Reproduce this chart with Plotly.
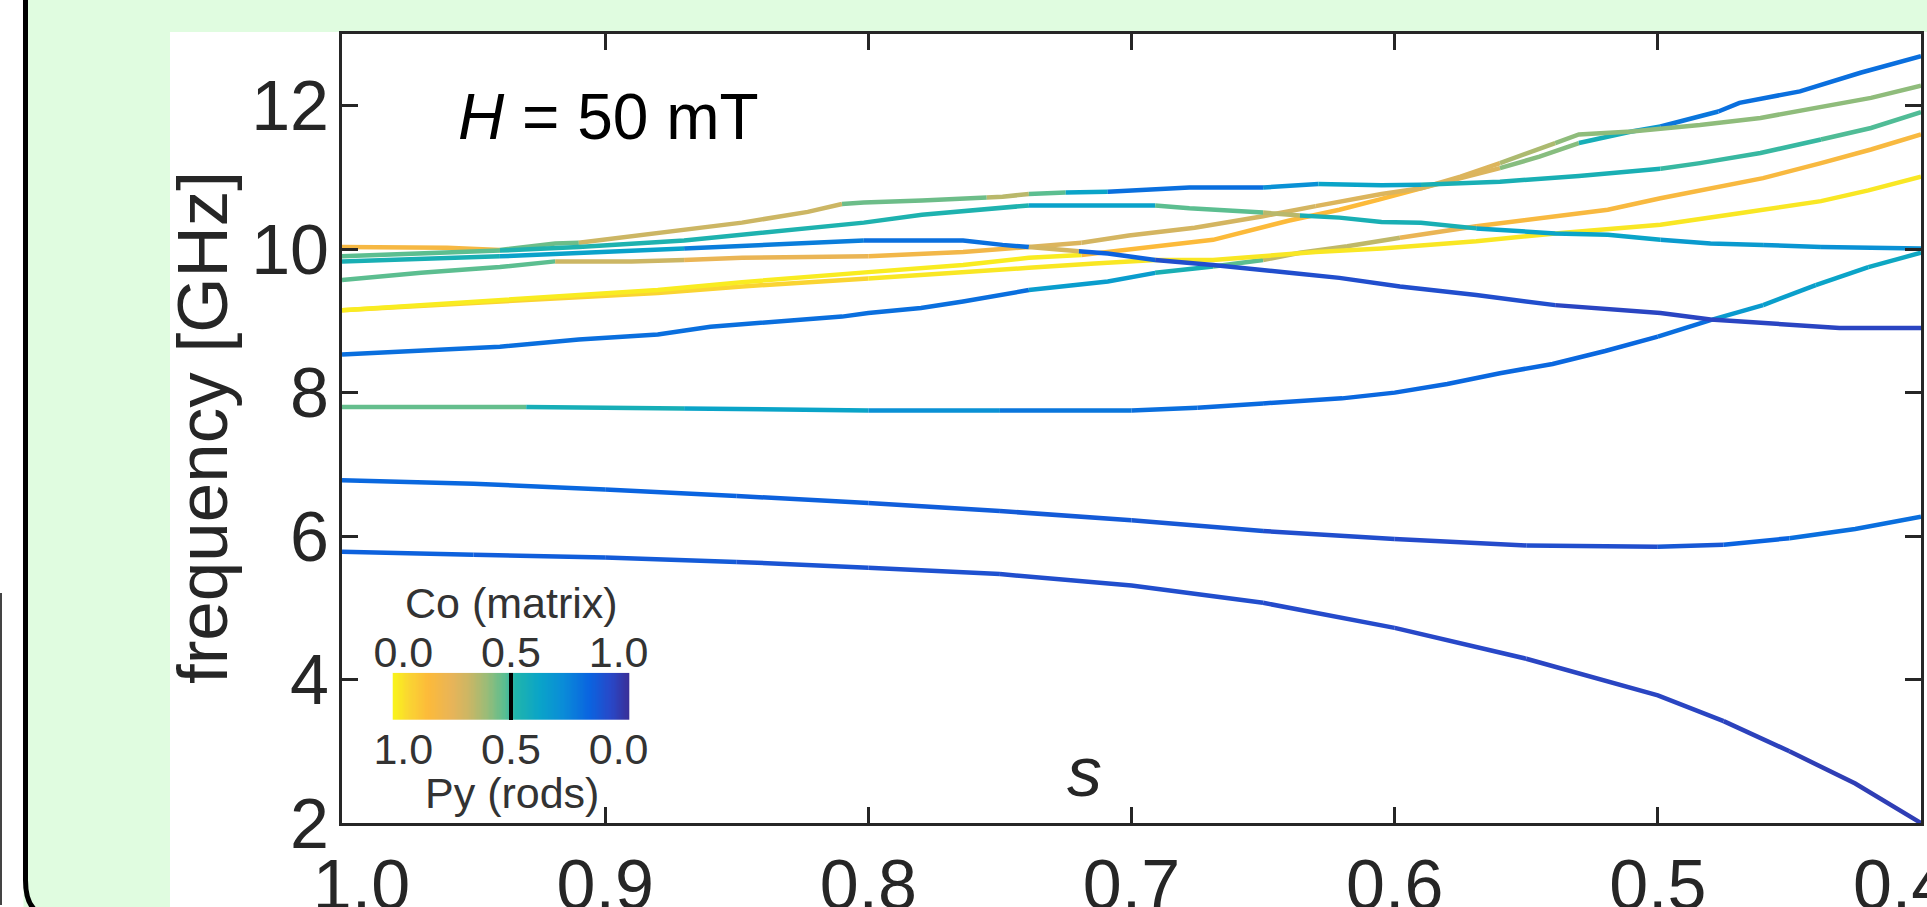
import plotly.graph_objects as go

W, H = 1927, 907

# ---------------- data ----------------
s_tick_vals = [1.0, 0.9, 0.8, 0.7, 0.6, 0.5, 0.4]
# the two end labels sit slightly inward in the reference (figure-space padding)
s_tick_text = ["\u20071.0", "0.9", "0.8", "0.7", "0.6", "0.5", "0.4\u2007"]
f_tick_vals = [2, 4, 6, 8, 10, 12]
f_tick_text = ["2", "4", "6", "8", "10", "12"]

# each mode: s nodes, frequency nodes [GHz], Co (matrix) weight of every segment
s_m1 = [1.0, 0.95, 0.9, 0.85, 0.8, 0.75, 0.7, 0.65, 0.6, 0.55, 0.5, 0.475, 0.45, 0.425, 0.4]
f_m1 = [5.78, 5.74, 5.70, 5.64, 5.56, 5.47, 5.31, 5.07, 4.72, 4.29, 3.78, 3.42, 3.0, 2.55, 2.0]
co_m1 = [0.84, 0.85, 0.86, 0.88, 0.89, 0.9, 0.9, 0.91, 0.92, 0.93, 0.93, 0.94, 0.95, 0.95]

s_m2 = [1.0, 0.95, 0.9, 0.85, 0.8, 0.75, 0.7, 0.65, 0.6, 0.55, 0.5, 0.475, 0.45, 0.425, 0.4]
f_m2 = [6.78, 6.73, 6.65, 6.56, 6.46, 6.35, 6.22, 6.07, 5.96, 5.87, 5.85, 5.88, 5.97, 6.10, 6.27]
co_m2 = [0.82, 0.82, 0.83, 0.84, 0.85, 0.86, 0.87, 0.9, 0.91, 0.9, 0.87, 0.83, 0.8, 0.8]

s_m3 = [1.0, 0.93, 0.87, 0.8, 0.75, 0.7, 0.675, 0.65, 0.62, 0.6, 0.58, 0.56, 0.54, 0.52, 0.5, 0.48, 0.46, 0.44, 0.42, 0.4]
f_m3 = [7.80, 7.80, 7.78, 7.75, 7.75, 7.75, 7.79, 7.85, 7.92, 8.0, 8.12, 8.27, 8.40, 8.58, 8.78, 9.01, 9.22, 9.50, 9.75, 9.95]
co_m3 = [0.46, 0.56, 0.62, 0.7, 0.78, 0.8, 0.81, 0.82, 0.82, 0.82, 0.82, 0.82, 0.82, 0.82, 0.8, 0.66, 0.64, 0.62, 0.6]

s_m4 = [1.0, 0.97, 0.94, 0.91, 0.88, 0.86, 0.84, 0.81, 0.8, 0.78, 0.764, 0.739, 0.709, 0.691, 0.669, 0.65,
        0.636, 0.618, 0.598, 0.569, 0.539, 0.519, 0.499, 0.48, 0.46, 0.438, 0.419, 0.4]
f_m4 = [8.53, 8.59, 8.64, 8.74, 8.81, 8.92, 8.97, 9.06, 9.11, 9.18, 9.27, 9.43, 9.55, 9.67, 9.76, 9.85,
        9.95, 10.04, 10.16, 10.32, 10.46, 10.55, 10.71, 10.85, 10.99, 11.20, 11.39, 11.60]
co_m4 = [0.8] * 11 + [0.65, 0.65, 0.55, 0.47, 0.34, 0.34, 0.34, 0.24] + [0.17] * 8

s_m5 = [1.0, 0.94, 0.91, 0.88, 0.848, 0.823, 0.8, 0.764, 0.739, 0.714, 0.691, 0.669, 0.65, 0.63, 0.605,
        0.569, 0.539, 0.499, 0.469, 0.438, 0.42, 0.4]
f_m5 = [9.15, 9.27, 9.33, 9.39, 9.48, 9.54, 9.59, 9.67, 9.74, 9.80, 9.85, 9.85, 9.90, 9.96, 10.01,
        10.11, 10.22, 10.34, 10.50, 10.67, 10.82, 11.01]
co_m5 = [0.07] * 6 + [0.03] * 15

s_m6 = [1.0, 0.97, 0.94, 0.91, 0.88, 0.848, 0.823, 0.8, 0.764, 0.739, 0.719, 0.691, 0.669, 0.64, 0.621,
        0.606, 0.59, 0.56, 0.545, 0.53, 0.51, 0.499, 0.477, 0.469, 0.446, 0.423, 0.4]
f_m6 = [9.15, 9.22, 9.29, 9.36, 9.43, 9.54, 9.62, 9.68, 9.78, 9.88, 9.92, 10.04, 10.13, 10.40, 10.55,
        10.69, 10.85, 11.13, 11.29, 11.48, 11.64, 11.71, 11.92, 12.04, 12.20, 12.46, 12.69]
co_m6 = [0.02] * 10 + [0.15] * 6 + [0.28, 0.42, 0.42, 0.56, 0.66, 0.78, 0.8, 0.8, 0.8, 0.8]

s_m7 = [1.0, 0.97, 0.94, 0.919, 0.89, 0.87, 0.848, 0.823, 0.8, 0.764, 0.739, 0.719, 0.701, 0.676, 0.65,
        0.63, 0.605, 0.59, 0.575, 0.56, 0.539, 0.53, 0.51, 0.484, 0.461, 0.438, 0.419, 0.4]
f_m7 = [9.57, 9.67, 9.75, 9.83, 9.83, 9.85, 9.88, 9.89, 9.90, 9.96, 10.03, 10.09, 10.19, 10.30, 10.46,
        10.60, 10.77, 10.85, 11.01, 11.20, 11.48, 11.60, 11.64, 11.73, 11.83, 11.99, 12.11, 12.28]
co_m7 = [0.47] * 3 + [0.32] * 2 + [0.24] * 3 + [0.2] * 2 + [0.28] + [0.3] * 4 + [0.28] * 4 + [0.37] + [0.41] * 7

s_m8 = [1.0, 0.97, 0.96, 0.94, 0.919, 0.91, 0.89, 0.87, 0.848, 0.823, 0.81, 0.8017, 0.7796, 0.755, 0.749,
        0.739, 0.725, 0.709, 0.678, 0.65, 0.629, 0.605, 0.59, 0.56, 0.53, 0.499, 0.484, 0.461, 0.438, 0.419, 0.4]
f_m8 = [10.03, 10.03, 10.02, 9.99, 10.08, 10.09, 10.18, 10.27, 10.37, 10.52, 10.63, 10.65, 10.68, 10.72, 10.73,
        10.77, 10.79, 10.80, 10.86, 10.86, 10.91, 10.89, 10.90, 10.94, 11.02, 11.12, 11.20, 11.34, 11.53, 11.69, 11.91]
co_m8 = [0.18] * 3 + [0.45] * 2 + [0.32] * 5 + [0.45] * 3 + [0.35] * 2 + [0.47, 0.62, 0.8, 0.8, 0.7, 0.62, 0.62] + \
        [0.55] * 3 + [0.5] * 3 + [0.48] * 2

s_m9 = [1.0, 0.97, 0.94, 0.91, 0.87, 0.848, 0.823, 0.8017, 0.7796, 0.739, 0.691, 0.678, 0.65, 0.636, 0.621,
        0.605, 0.59, 0.569, 0.539, 0.519, 0.499, 0.48, 0.46, 0.438, 0.4]
f_m9 = [9.90, 9.94, 9.98, 10.03, 10.12, 10.20, 10.30, 10.37, 10.48, 10.61, 10.61, 10.57, 10.51, 10.47, 10.44,
        10.38, 10.37, 10.29, 10.22, 10.20, 10.13, 10.08, 10.06, 10.03, 10.01]
co_m9 = [0.47] * 2 + [0.53] * 7 + [0.63, 0.47, 0.47, 0.35] + [0.55] * 4 + [0.62] * 3 + [0.66, 0.66, 0.68, 0.7]

s_m10 = [1.0, 0.97, 0.94, 0.91, 0.87, 0.848, 0.823, 0.8017, 0.764, 0.749, 0.739, 0.72, 0.709, 0.691, 0.669,
         0.64, 0.621, 0.598, 0.569, 0.539, 0.499, 0.48, 0.449, 0.431, 0.4]
f_m10 = [9.83, 9.86, 9.90, 9.95, 10.01, 10.05, 10.09, 10.12, 10.12, 10.06, 10.03, 9.97, 9.94, 9.85, 9.78,
         9.67, 9.60, 9.48, 9.36, 9.22, 9.11, 9.02, 8.95, 8.90, 8.90]
co_m10 = [0.55] * 2 + [0.63] * 2 + [0.76] * 3 + [0.8] * 3 + [0.3] + [0.84] * 2 + [0.9] * 6 + [0.93] * 5

modes = [
    (s_m1, f_m1, co_m1), (s_m2, f_m2, co_m2), (s_m3, f_m3, co_m3), (s_m4, f_m4, co_m4),
    (s_m5, f_m5, co_m5), (s_m6, f_m6, co_m6), (s_m7, f_m7, co_m7), (s_m8, f_m8, co_m8),
    (s_m9, f_m9, co_m9), (s_m10, f_m10, co_m10),
]

# colour scale (Co fraction 0 -> 1), as in the inset colour bar
cscale = [
    [0.00, "#f9f51a"], [0.07, "#fad432"], [0.15, "#fcba3a"], [0.25, "#e8b458"],
    [0.32, "#ccb664"], [0.40, "#98bc78"], [0.47, "#5cbe90"], [0.52, "#20b4ac"],
    [0.62, "#0aa4c8"], [0.72, "#0a8cd8"], [0.83, "#0a64e0"], [0.92, "#2848c8"],
    [1.00, "#3a2e96"],
]
cbar_vals = [i / 200 for i in range(201)]
cbar_top_text = ["0.0", "0.5", "1.0"]
cbar_bot_text = ["1.0", "0.5", "0.0"]
cbar_label_pos = [0.045, 0.5, 0.955]


def hex2rgb(h):
    h = h.lstrip("#")
    return tuple(int(h[i:i + 2], 16) for i in (0, 2, 4))


def color_at(c):
    c = min(max(c, 0.0), 1.0)
    for (p0, c0), (p1, c1) in zip(cscale[:-1], cscale[1:]):
        if p0 <= c <= p1:
            t = 0 if p1 == p0 else (c - p0) / (p1 - p0)
            a, b = hex2rgb(c0), hex2rgb(c1)
            r = [round(a[k] + (b[k] - a[k]) * t) for k in range(3)]
            return "rgb(%d,%d,%d)" % tuple(r)
    return cscale[-1][1]


FONT = "Liberation Sans, Arial, Helvetica, sans-serif"
INK = "#262626"

fig = go.Figure()

# draw every mode as runs of equally coloured segments
for s_arr, f_arr, co_arr in modes:
    assert len(co_arr) == len(s_arr) - 1, (len(co_arr), len(s_arr))
    i = 0
    n = len(co_arr)
    while i < n:
        j = i
        while j + 1 < n and co_arr[j + 1] == co_arr[i]:
            j += 1
        fig.add_trace(go.Scatter(
            x=s_arr[i:j + 2], y=f_arr[i:j + 2], mode="lines",
            line=dict(color=color_at(co_arr[i]), width=4.5),
            hoverinfo="skip", showlegend=False,
        ))
        i = j + 1

# inset colour bar
fig.add_trace(go.Heatmap(
    x=cbar_vals, y=[0], z=[cbar_vals], colorscale=cscale, zmin=0, zmax=1,
    showscale=False, hoverinfo="skip", xaxis="x2", yaxis="y2",
))
fig.add_trace(go.Scatter(
    x=[0.5, 0.5], y=[-0.5, 0.5], mode="lines", line=dict(color="black", width=4),
    hoverinfo="skip", showlegend=False, xaxis="x3", yaxis="y2",
))


def px_x(x):
    return x / W


def px_y(y):
    return 1 - y / H


axis_common = dict(
    showline=True, linecolor=INK, linewidth=3, mirror="ticks",
    ticks="inside", ticklen=16, tickwidth=3, tickcolor=INK,
    showgrid=False, zeroline=False, automargin=False, ticklabeloverflow="allow",
    tickfont=dict(family=FONT, size=70, color=INK),
)

fig.update_layout(
    template="none",
    width=W, height=H,
    margin=dict(l=0, r=0, t=0, b=0, pad=0, autoexpand=False),
    paper_bgcolor="#e0fce0",
    plot_bgcolor="rgba(0,0,0,0)",
    showlegend=False,
    xaxis=dict(domain=[px_x(342), px_x(1921)], range=[1.0, 0.4],
               tickvals=s_tick_vals, ticktext=s_tick_text, ticklabelstandoff=-1,
               **axis_common),
    yaxis=dict(domain=[px_y(823), px_y(34)], range=[2, 13],
               tickvals=f_tick_vals, ticktext=f_tick_text, ticklabelstandoff=-4,
               **axis_common),
    xaxis2=dict(domain=[px_x(392.7), px_x(629.3)], anchor="y2", range=[0, 1], side="top",
                showline=False, ticks="", showgrid=False, zeroline=False, automargin=False,
                tickvals=cbar_label_pos, ticktext=cbar_top_text, ticklabelstandoff=-4,
                tickfont=dict(family=FONT, size=43, color="#333333")),
    xaxis3=dict(overlaying="x2", anchor="y2", range=[0, 1], side="bottom",
                showline=False, ticks="", showgrid=False, zeroline=False, automargin=False,
                tickvals=cbar_label_pos, ticktext=cbar_bot_text, ticklabelstandoff=0,
                tickfont=dict(family=FONT, size=43, color="#333333")),
    yaxis2=dict(domain=[px_y(720), px_y(672.7)], anchor="x2", range=[-0.5, 0.5],
                visible=False, automargin=False),
)

shapes = [
    dict(type="rect", xref="paper", yref="paper", x0=0, x1=px_x(23.5), y0=0, y1=1,
         fillcolor="white", line=dict(width=0), layer="below"),
    dict(type="rect", xref="paper", yref="paper", x0=px_x(170), x1=1, y0=0, y1=px_y(32),
         fillcolor="white", line=dict(width=0), layer="below"),
    dict(type="path", xref="paper", yref="paper",
         path="M %f,%f L %f,%f Q %f,%f %f,%f" % (
             px_x(25.5), px_y(-5), px_x(25.5), px_y(880),
             px_x(25.5), px_y(905), px_x(38), px_y(912)),
         line=dict(color="black", width=5)),
    dict(type="line", xref="paper", yref="paper", x0=px_x(1), x1=px_x(1),
         y0=px_y(593), y1=px_y(905), line=dict(color="#444444", width=2)),
]
fig.update_layout(shapes=shapes)

annotations = [
    dict(text="frequency [GHz]", x=px_x(202), y=px_y(428), xref="paper", yref="paper",
         textangle=-90, showarrow=False, xanchor="center", yanchor="middle",
         font=dict(family=FONT, size=71, color=INK)),
    dict(text="<i>H</i> = 50 mT", x=px_x(456), y=px_y(117), xref="paper", yref="paper",
         showarrow=False, xanchor="left", yanchor="middle",
         font=dict(family=FONT, size=64, color="black")),
    dict(text="<i>s</i>", x=px_x(1084), y=px_y(772), xref="paper", yref="paper",
         showarrow=False, xanchor="center", yanchor="middle",
         font=dict(family=FONT, size=70, color=INK)),
    dict(text="Co (matrix)", x=px_x(511), y=px_y(603), xref="paper", yref="paper",
         showarrow=False, xanchor="center", yanchor="middle",
         font=dict(family=FONT, size=43, color="#333333")),
    dict(text="Py (rods)", x=px_x(512), y=px_y(793), xref="paper", yref="paper",
         showarrow=False, xanchor="center", yanchor="middle",
         font=dict(family=FONT, size=43, color="#333333")),
]
fig.update_layout(annotations=annotations)

fig.write_html(
    "out.html",
    config={"displayModeBar": False},
    post_script="document.documentElement.style.margin='0';"
                "document.body.style.margin='0';document.body.style.padding='0';"
                "document.body.style.overflow='hidden';",
)
